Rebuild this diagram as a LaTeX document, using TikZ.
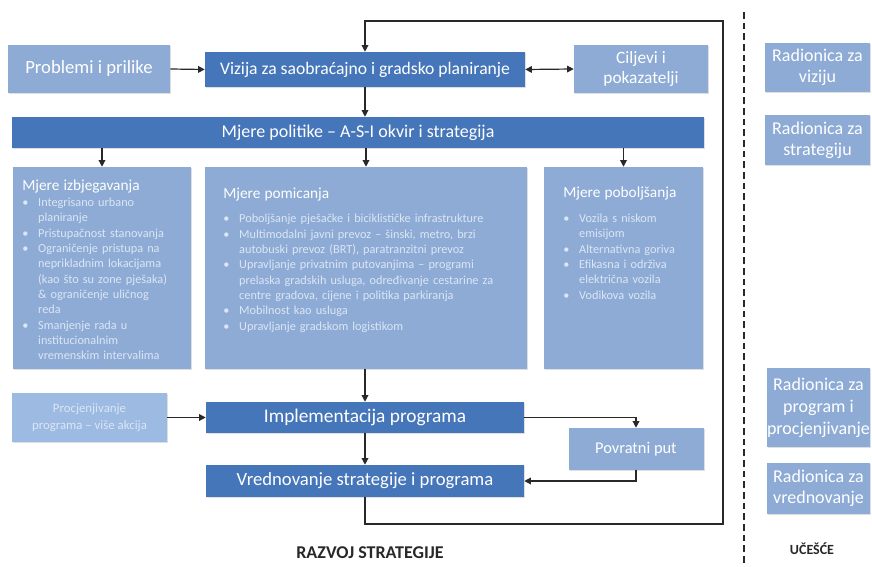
\documentclass[tikz,border=0pt]{standalone}
\usepackage{fontspec}
\setmainfont{Carlito}
\usetikzlibrary{arrows.meta,shadows}
\definecolor{darkbox}{RGB}{70,118,186}
\definecolor{lightbox}{RGB}{141,171,213}
\definecolor{palebox}{RGB}{156,186,226}
\definecolor{paletext}{RGB}{220,230,245}
\definecolor{linegray}{RGB}{40,40,40}
\newdimen\stavkadp
\newcommand{\stavka}[1]{\par\noindent\makebox[1.3em][l]{\textbullet}%
  \parbox[t]{\dimexpr\linewidth-1.3em\relax}{\raggedright #1\par\global\stavkadp=\prevdepth}%
  \par\prevdepth=\stavkadp}
\newcommand{\lomi}{\hfil\break}
\newcommand{\naslov}[1]{{\fontsize{11.5}{13}\selectfont\color{white}#1\par}}

\begin{document}
\begin{tikzpicture}[x=.75pt,y=-.75pt,
  boxsize/.style 2 args={minimum width=#1*.75pt,minimum height=#2*.75pt},
  boxbase/.style={inner sep=0pt,align=center,text=white,
    drop shadow={shadow xshift=1pt,shadow yshift=-1pt,opacity=.25}},
  dark/.style={boxbase,fill=darkbox},
  light/.style={boxbase,fill=lightbox},
  body/.style={anchor=north west,inner sep=0pt,align=left,text=paletext,
    font=\fontsize{9.2}{11.5}\selectfont},
  arr/.style={draw=linegray,line width=.9pt,-{Triangle[length=5pt,width=5pt]}},
  arrtwo/.style={draw=linegray,line width=.9pt,
    {Triangle[length=5pt,width=5pt]}-{Triangle[length=5pt,width=5pt]}}]
\useasboundingbox (0,0) rectangle (872,567);

\node[light,boxsize={162}{48},font=\fontsize{14}{16}\selectfont] (prob) at (89,69) {Problemi i prilike};
\node[dark,boxsize={320}{35},font=\fontsize{13.2}{15}\selectfont] (viz) at (365,69.5) {Vizija za saobraćajno i gradsko planiranje};
\node[light,boxsize={134}{48},font=\fontsize{13}{15}\selectfont] (cilj) at (641,69) {Ciljevi i\\pokazatelji};
\node[dark,boxsize={692}{31},font=\fontsize{13.5}{15}\selectfont] (mp) at (358,132.5) {Mjere politike – A-S-I okvir i strategija};

\node[light,boxsize={178}{202}] (avoid) at (102,268) {};
\node[light,boxsize={322}{202}] (shift) at (366,268) {};
\node[light,boxsize={159}{202}] (impr) at (623.5,268) {};

\node[body,text width=128pt] (avoidtxt) at (22,179.5) {\naslov{Mjere izbjegavanja}\vspace{0.5pt}
  \stavka{Integrisano urbano\lomi planiranje}
  \stavka{Pristupačnost stanovanja}
  \stavka{Ograničenje pristupa na\lomi neprikladnim lokacijama\lomi (kao što su zone pješaka)\lomi \& ograničenje uličnog\lomi reda}
  \stavka{Smanjenje rada u\lomi institucionalnim\lomi vremenskim intervalima}};
\node[body,text width=228pt] (shifttxt) at (223,188) {\naslov{Mjere pomicanja}\vspace{6.5pt}
  \stavka{Poboljšanje pješačke i biciklističke infrastrukture}
  \stavka{Multimodalni javni prevoz – šinski, metro, brzi\lomi autobuski prevoz (BRT), paratranzitni prevoz}
  \stavka{Upravljanje privatnim putovanjima – programi\lomi prelaska gradskih usluga, određivanje cestarine za\lomi centre gradova, cijene i politika parkiranja}
  \stavka{Mobilnost kao usluga}
  \stavka{Upravljanje gradskom logistikom}};
\node[body,text width=106pt] (imprtxt) at (563,187) {\naslov{Mjere poboljšanja}\vspace{7pt}
  \stavka{Vozila s niskom\lomi emisijom}
  \stavka{Alternativna goriva}
  \stavka{Efikasna i održiva\lomi električna vozila}
  \stavka{Vodikova vozila}};

\node[light,fill=palebox,text=paletext,boxsize={155}{49},font=\fontsize{9.6}{13}\selectfont] (proc) at (89.5,417.5) {Procjenjivanje\\programa – više akcija};
\node[dark,boxsize={318}{31},font=\fontsize{14.5}{16}\selectfont] (impl) at (365,417.5) {Implementacija programa};
\node[dark,boxsize={318}{32},font=\fontsize{14}{16}\selectfont] (vred) at (365,481) {Vrednovanje strategije i programa};
\node[light,boxsize={135}{42},font=\fontsize{12.3}{14}\selectfont] (povr) at (636,449) {Povratni put};

\node[light,boxsize={105}{49},font=\fontsize{13.5}{16}\selectfont] (rviz) at (817.5,67.5) {Radionica za\\viziju};
\node[light,boxsize={105}{50},font=\fontsize{13.5}{16}\selectfont] (rstrat) at (817.5,140) {Radionica za\\strategiju};
\node[light,boxsize={103}{79},font=\fontsize{13.5}{16.5}\selectfont] (rprog) at (818.5,407.5) {Radionica za\\program i\\procjenjivanje};
\node[light,boxsize={103}{51},font=\fontsize{13.5}{16}\selectfont] (rvred) at (818.5,488.5) {Radionica za\\vrednovanje};

\node[font=\bfseries\fontsize{13.5}{15}\selectfont,text=linegray] (razvoj) at (370,553) {RAZVOJ STRATEGIJE};
\node[font=\bfseries\fontsize{10.5}{12}\selectfont,text=linegray] (ucesce) at (812,549) {UČEŠĆE};

\coordinate (sepTop) at (744,12);
\coordinate (sepBot) at (744,567);
\draw[linegray,line width=.8pt,dash pattern=on 5pt off 3pt] (sepTop) -- (sepBot);

\draw[arr] (prob.east) -- (viz.west);
\draw[arrtwo] (viz.east) -- (cilj.west);
\draw[arr] (viz.south) -- (viz.south |- mp.north);
\draw[arr] (mp.south -| avoid.north) -- (avoid.north);
\draw[arr] (mp.south -| shift.north) -- (shift.north);
\draw[arr] (mp.south -| impr.north) -- (impr.north);
\draw[arr] (impl.north |- shift.south) -- (impl.north);
\draw[arr] (proc.east) -- (impl.west);
\draw[arr] (impl.south) -- (vred.north);
\draw[arr] (impl.east) -| (povr.north);
\draw[arr] (povr.south) |- (vred.east);
\coordinate (lowR) at (723,524);
\coordinate (topR) at (723,21);
\draw[arr] (vred.south) |- (lowR) -- (topR) -| (viz.north);
\end{tikzpicture}
\end{document}
